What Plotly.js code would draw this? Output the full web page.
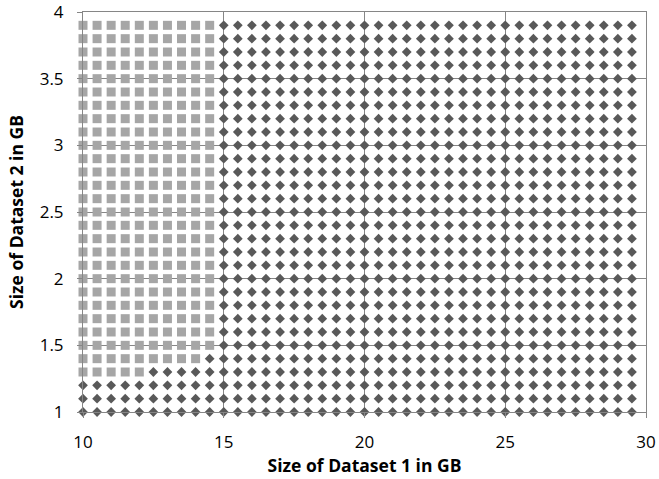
<!DOCTYPE html>
<html>
<head>
<meta charset="utf-8">
<script src="https://cdn.plot.ly/plotly-3.0.1.min.js"></script>
<style>html,body{margin:0;padding:0;background:#fff;}#chart{width:659px;height:479px;}</style>
</head>
<body>
<div id="chart"></div>
<script>
// Dataset 1 sizes (GB) sampled along x
const dataset1Sizes = [10, 10.5, 11, 11.5, 12, 12.5, 13, 13.5, 14, 14.5,
  15, 15.5, 16, 16.5, 17, 17.5, 18, 18.5, 19, 19.5,
  20, 20.5, 21, 21.5, 22, 22.5, 23, 23.5, 24, 24.5,
  25, 25.5, 26, 26.5, 27, 27.5, 28, 28.5, 29, 29.5];
// Dataset 2 sizes (GB) sampled along y
const dataset2Sizes = [1.0, 1.1, 1.2, 1.3, 1.4, 1.5, 1.6, 1.7, 1.8, 1.9,
  2.0, 2.1, 2.2, 2.3, 2.4, 2.5, 2.6, 2.7, 2.8, 2.9,
  3.0, 3.1, 3.2, 3.3, 3.4, 3.5, 3.6, 3.7, 3.8, 3.9];
// Number of leading (smallest dataset1) columns drawn as squares in each dataset2 row
const squareColumnsPerRow = [0, 0, 0, 5, 9, 10, 10, 10, 10, 10,
  10, 10, 10, 10, 10, 10, 10, 10, 10, 10,
  10, 10, 10, 10, 10, 10, 10, 10, 10, 10];
const xTickVals = [10, 15, 20, 25, 30];
const xTickText = ["10", "15", "20", "25", "30"];
const yTickVals = [1, 1.5, 2, 2.5, 3, 3.5, 4];
const yTickText = ["1", "1.5", "2", "2.5", "3", "3.5", "4"];

const sqX = [], sqY = [], dmX = [], dmY = [];
dataset2Sizes.forEach((yv, r) => {
  dataset1Sizes.forEach((xv, c) => {
    if (c < squareColumnsPerRow[r]) { sqX.push(xv); sqY.push(yv); }
    else { dmX.push(xv); dmY.push(yv); }
  });
});

const font = "Open Sans, Liberation Sans, sans-serif";
const gridColor = "#868686";

const traces = [
  {x: sqX, y: sqY, type: "scatter", mode: "markers", name: "square",
   marker: {symbol: "square", size: 9, color: "#a6a6a6"}, cliponaxis: false},
  {x: dmX, y: dmY, type: "scatter", mode: "markers", name: "diamond",
   marker: {symbol: "diamond", size: 7.5, color: "#595959"}, cliponaxis: false}
];

const layout = {
  width: 659, height: 479,
  margin: {l: 83, r: 13, t: 12, b: 67},
  showlegend: false,
  paper_bgcolor: "#fff", plot_bgcolor: "#fff",
  font: {family: font, color: "#000"},
  xaxis: {
    range: [10, 30], tickvals: xTickVals, ticktext: xTickText,
    showgrid: true, gridcolor: gridColor, gridwidth: 1,
    showline: true, linecolor: gridColor, linewidth: 1, mirror: true,
    ticks: "outside", ticklen: 5, tickcolor: gridColor, ticklabelstandoff: 10,
    ticklabeloverflow: "allow",
    zeroline: false, tickfont: {size: 17, family: font},
    title: {text: "<b>Size of Dataset 1 in GB</b>", font: {size: 17.5, family: font}, standoff: 4}
  },
  yaxis: {
    range: [1, 4], tickvals: yTickVals, ticktext: yTickText,
    showgrid: true, gridcolor: gridColor, gridwidth: 1,
    showline: true, linecolor: gridColor, linewidth: 1, mirror: true,
    ticks: "outside", ticklen: 5, tickcolor: gridColor, ticklabelstandoff: 10,
    ticklabeloverflow: "allow",
    zeroline: false, tickfont: {size: 17, family: font},
    title: {text: "<b>Size of Dataset 2 in GB</b>", font: {size: 17.5, family: font}, standoff: 11}
  }
};

Plotly.newPlot("chart", traces, layout, {displayModeBar: false, staticPlot: true});
</script>
</body>
</html>
